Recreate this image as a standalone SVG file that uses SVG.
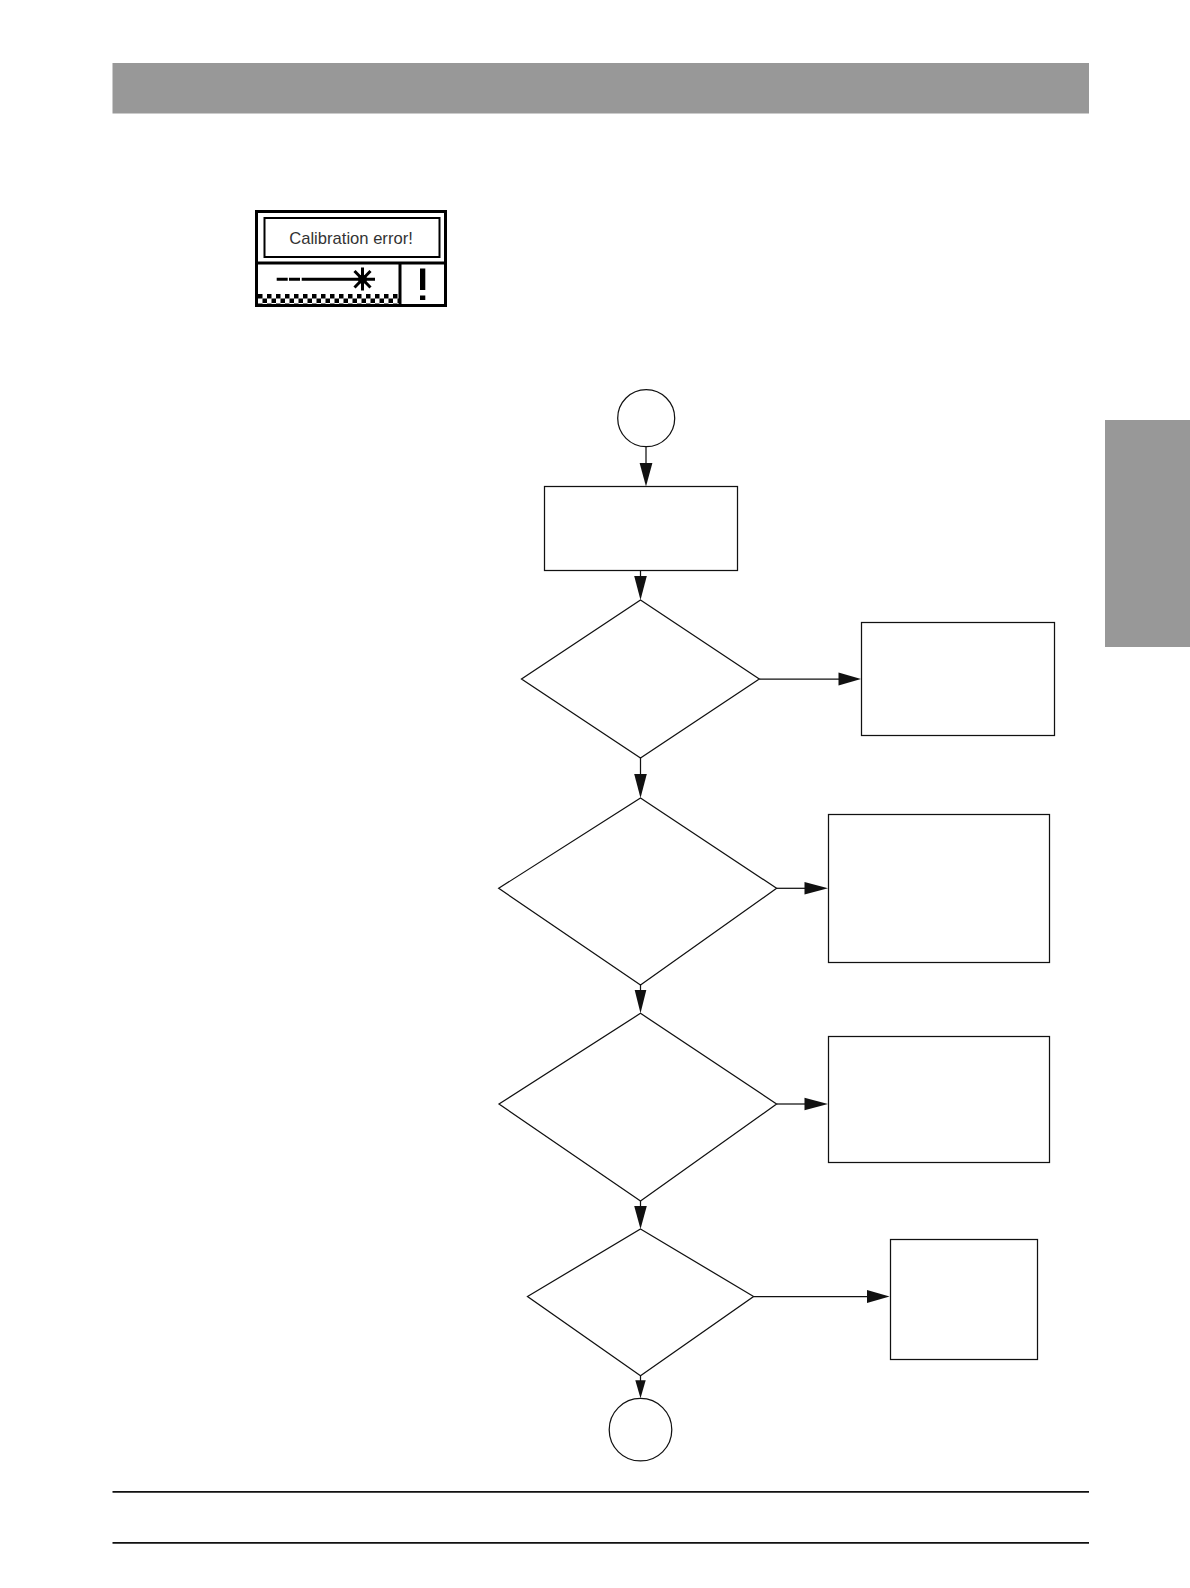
<svg xmlns="http://www.w3.org/2000/svg" width="1190" height="1588" viewBox="0 0 1190 1588">
<style>
.n{fill:#fff;stroke:#111;stroke-width:1.25}
.c{fill:none;stroke:#111;stroke-width:1.25}
.b{fill:#111;stroke:none}
.g{fill:#989898;stroke:none}
.r{stroke:#111;stroke-width:1.8}
.d{fill:none;stroke:#000}
</style>
<defs>
<pattern id="chk" x="258" y="294" width="9" height="9" patternUnits="userSpaceOnUse">
<rect x="0" y="0" width="4.5" height="4.5" fill="#000"/>
<rect x="4.5" y="4.5" width="4.5" height="4.5" fill="#000"/>
</pattern>
</defs>
<rect width="1190" height="1588" fill="#fff"/>
<rect id="header-band" class="g" x="112.5" y="63" width="976.5" height="50.5"/>
<rect id="side-tab" class="g" x="1105" y="420" width="85" height="227"/>
<g id="display">
<rect class="d" x="256.5" y="211.5" width="189" height="94" stroke-width="3"/>
<rect class="d" x="264.5" y="218" width="175" height="39" stroke-width="2"/>
<path class="d" stroke-width="3" d="M256 263H446M400 263V305"/>
<rect x="258" y="294" width="141" height="9.5" fill="url(#chk)"/>
<text x="351" y="243.5" font-family="'Liberation Sans',Arial,sans-serif" font-size="16.6" text-anchor="middle" fill="#333">Calibration error!</text>
<path class="d" stroke-width="3" d="M276.7 279.3H287.7M289 279.3H300M301.7 279.3H375"/>
<path class="d" stroke-width="3" d="M362.5 267.5V290.5M354.5 271L370.5 287.5M370.5 271L354.5 287.5"/>
<circle cx="362.5" cy="279.3" r="4.5" fill="#000"/>
<rect x="420" y="268.5" width="5.3" height="21.5" fill="#000"/>
<rect x="420" y="295.5" width="5.3" height="4.5" fill="#000"/>
</g>
<g id="connectors">
<path class="c" d="M646 447V470"/><path class="b" d="M646 486.5L639.6 463H652.4Z"/>
<path class="c" d="M640.5 570.5V580"/><path class="b" d="M640.5 600L634.2 576H646.8Z"/>
<path class="c" d="M759.3 679H842"/><path class="b" d="M861 679L838.5 672.6V685.4Z"/>
<path class="c" d="M640.5 758V780"/><path class="b" d="M640.5 798L634.2 774H646.8Z"/>
<path class="c" d="M776.6 888.3H808"/><path class="b" d="M828 888.3L804.5 882V894.6Z"/>
<path class="c" d="M640.5 985V995"/><path class="b" d="M640.5 1013.3L634.7 990H646.3Z"/>
<path class="c" d="M776.6 1104H808"/><path class="b" d="M828 1104L804.5 1097.7V1110.3Z"/>
<path class="c" d="M640.5 1201V1210"/><path class="b" d="M640.5 1229L634.2 1206H646.8Z"/>
<path class="c" d="M753.6 1296.5H870"/><path class="b" d="M889.6 1296.5L867 1290V1303Z"/>
<path class="c" d="M640.5 1375.7V1384"/><path class="b" d="M640.5 1398.3L635.3 1380.3H645.7Z"/>
</g>
<g id="start"><circle class="n" cx="646.2" cy="418.2" r="28.5"/></g>
<g id="box1"><rect class="n" x="544.5" y="486.5" width="193" height="84"/></g>
<g id="decision1"><path class="n" d="M640.5 600L759.3 679L640.5 758L521.5 679Z"/></g>
<g id="box2"><rect class="n" x="861.5" y="622.5" width="193" height="113"/></g>
<g id="decision2"><path class="n" d="M640.5 798L776.6 888.3L640.5 985L498.7 888.3Z"/></g>
<g id="box3"><rect class="n" x="828.5" y="814.5" width="221" height="148"/></g>
<g id="decision3"><path class="n" d="M640.5 1013.3L776.6 1104L640.5 1201L499 1104Z"/></g>
<g id="box4"><rect class="n" x="828.5" y="1036.5" width="221" height="126"/></g>
<g id="decision4"><path class="n" d="M640.5 1229L753.6 1296.5L640.5 1375.7L527.5 1296.5Z"/></g>
<g id="box5"><rect class="n" x="890.5" y="1239.5" width="147" height="120"/></g>
<g id="end"><circle class="n" cx="640.5" cy="1429.7" r="31.3"/></g>
<path class="r" d="M112.5 1491.8H1089M112.5 1542.8H1089"/>
</svg>
